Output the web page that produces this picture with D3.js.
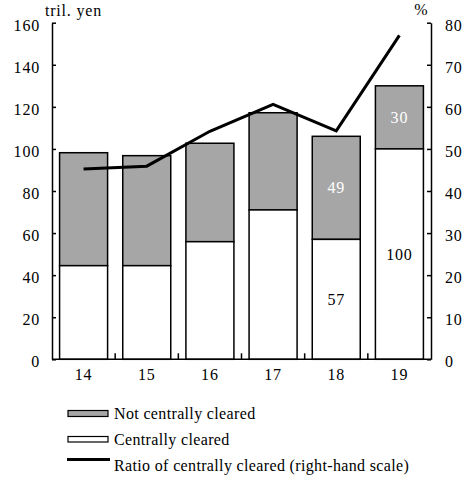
<!DOCTYPE html>
<html>
<head>
<meta charset="utf-8">
<script src="https://cdn.jsdelivr.net/npm/d3@7"></script>
<style>
  body { margin: 0; background: #fff; }
</style>
</head>
<body>
<div id="chart"></div>
<script>
var years = ["14", "15", "16", "17", "18", "19"];
var cleared = [44.5, 44.5, 55.9, 71, 57, 100];
var notCleared = [53.7, 52.3, 46.8, 46.2, 49, 30];
var ratio = [45.2, 45.9, 54.2, 60.6, 54.3, 77.0];
var leftTicks = [0, 20, 40, 60, 80, 100, 120, 140, 160];
var rightTicks = [0, 10, 20, 30, 40, 50, 60, 70, 80];
var labelled = ["18", "19"];

(function () {
    var width = 465, height = 487;
    var mLeft = 52, mRight = 431, mTop = 22.7, mBottom = 359.3;
    var gray = "#a6a6a6";
    var serif = "'Liberation Serif', 'DejaVu Serif', serif";

    var svg = d3.select("#chart").append("svg")
        .attr("width", width)
        .attr("height", height)
        .style("font-family", serif);

    var x = d3.scaleBand().domain(years).range([mLeft, mRight])
        .paddingInner(0.24).paddingOuter(0.12);
    var y = d3.scaleLinear().domain([0, 160]).range([mBottom, mTop]);
    var y2 = d3.scaleLinear().domain([0, 80]).range([mBottom, mTop]);

    var rows = years.map(function (d, i) {
        return { year: d, c: cleared[i], n: notCleared[i], r: ratio[i] };
    });

    // bars
    var g = svg.append("g");
    rows.forEach(function (d) {
        g.append("rect")
            .attr("x", x(d.year)).attr("width", x.bandwidth())
            .attr("y", y(d.c + d.n)).attr("height", y(d.c) - y(d.c + d.n))
            .attr("fill", gray).attr("stroke", "#000").attr("stroke-width", 1.5);
        g.append("rect")
            .attr("x", x(d.year)).attr("width", x.bandwidth())
            .attr("y", y(d.c)).attr("height", y(0) - y(d.c))
            .attr("fill", "#fff").attr("stroke", "#000").attr("stroke-width", 1.5);
        if (labelled.indexOf(d.year) >= 0) {
            var cx = x(d.year) + x.bandwidth() / 2;
            g.append("text").attr("x", cx).attr("y", (y(d.c) + y(d.c + d.n)) / 2)
                .attr("dy", "0.35em").attr("text-anchor", "middle")
                .attr("font-size", 16).attr("letter-spacing", 0.8)
                .attr("fill", "#fff").text(d.n);
            g.append("text").attr("x", cx).attr("y", (y(0) + y(d.c)) / 2)
                .attr("dy", "0.35em").attr("text-anchor", "middle")
                .attr("font-size", 16).attr("letter-spacing", 0.8)
                .attr("fill", "#000").text(d.c);
        }
    });

    // ratio line
    var line = d3.line()
        .x(function (d) { return x(d.year) + x.bandwidth() / 2; })
        .y(function (d) { return y2(d.r); });
    svg.append("path").datum(rows)
        .attr("d", line).attr("fill", "none")
        .attr("stroke", "#000").attr("stroke-width", 3);

    // axes
    var leftAxis = svg.append("g").attr("transform", "translate(" + mLeft + ",0)")
        .call(d3.axisLeft(y).tickValues(leftTicks).tickSize(-4).tickPadding(12).tickSizeOuter(0));
    var rightAxis = svg.append("g").attr("transform", "translate(" + mRight + ",0)")
        .call(d3.axisRight(y2).tickValues(rightTicks).tickSize(-4).tickPadding(14).tickSizeOuter(0));
    var bottomAxis = svg.append("g").attr("transform", "translate(0," + mBottom + ")")
        .call(d3.axisBottom(x).tickSize(0).tickPadding(9));

    [leftAxis, rightAxis, bottomAxis].forEach(function (a) {
        a.attr("font-family", null).attr("font-size", null);
        a.selectAll("text").attr("font-size", 16).attr("letter-spacing", 0.8).attr("fill", "#000");
        a.selectAll("line").attr("stroke", "#000").attr("stroke-width", 1.5);
        a.select(".domain").attr("stroke", "#000").attr("stroke-width", 1.5);
    });
    leftAxis.selectAll("text").attr("dy", "0.48em");
    rightAxis.selectAll("text").attr("dy", "0.48em");
    bottomAxis.select(".domain").attr("d", "M" + mLeft + ",0H" + mRight);

    // separator ticks between categories
    years.slice(0, -1).forEach(function (d) {
        var sx = x(d) + x.bandwidth() + x.step() * x.paddingInner() / 2;
        svg.append("line").attr("x1", sx).attr("x2", sx)
            .attr("y1", mBottom).attr("y2", mBottom - 6)
            .attr("stroke", "#000").attr("stroke-width", 1.5);
    });

    // units
    svg.append("text").attr("x", 45).attr("y", 16).attr("font-size", 16)
        .attr("letter-spacing", 0.8).text("tril. yen");
    svg.append("text").attr("x", 421).attr("y", 15).attr("font-size", 16)
        .attr("text-anchor", "middle").text("%");

    // legend
    var lg = svg.append("g").attr("font-size", 16).attr("letter-spacing", 0.35);
    lg.append("rect").attr("x", 68).attr("y", 410.5).attr("width", 40).attr("height", 6)
        .attr("fill", gray).attr("stroke", "#000").attr("stroke-width", 1.2);
    lg.append("text").attr("x", 114).attr("y", 419).text("Not centrally cleared");
    lg.append("rect").attr("x", 68).attr("y", 436.5).attr("width", 40).attr("height", 5.5)
        .attr("fill", "#fff").attr("stroke", "#000").attr("stroke-width", 1.2);
    lg.append("text").attr("x", 114).attr("y", 445).text("Centrally cleared");
    lg.append("line").attr("x1", 67).attr("x2", 110).attr("y1", 459.5).attr("y2", 459.5)
        .attr("stroke", "#000").attr("stroke-width", 3);
    lg.append("text").attr("x", 114).attr("y", 471)
        .text("Ratio of centrally cleared (right-hand scale)");
})();
</script>
</body>
</html>
